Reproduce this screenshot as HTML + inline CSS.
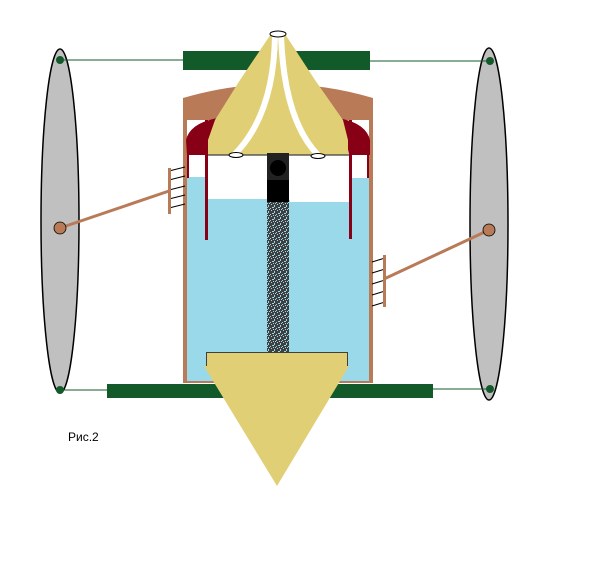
<!DOCTYPE html>
<html><head><meta charset="utf-8"><style>html,body{margin:0;padding:0;background:#fff}svg{display:block}</style></head><body>
<svg width="608" height="570" viewBox="0 0 608 570" xmlns="http://www.w3.org/2000/svg">
<rect width="608" height="570" fill="#fff"/>
<ellipse cx="60" cy="221" rx="19" ry="172" fill="#c0c0c0" stroke="#000" stroke-width="1.5"/>
<ellipse cx="489" cy="224" rx="19" ry="176" fill="#c0c0c0" stroke="#000" stroke-width="1.5"/>
<line x1="60" y1="60" x2="184" y2="60" stroke="#135a2a" stroke-width="1"/>
<line x1="370" y1="61" x2="490" y2="61" stroke="#135a2a" stroke-width="1"/>
<line x1="60" y1="390" x2="108" y2="390" stroke="#135a2a" stroke-width="1"/>
<line x1="432" y1="389" x2="490" y2="389" stroke="#135a2a" stroke-width="1"/>
<rect x="183" y="51" width="187" height="19" fill="#135a2a"/>
<rect x="107" y="384" width="326" height="14" fill="#135a2a"/>
<path d="M183 98 Q278 70 373 98 L373 383 L183 383 Z" fill="#b97a57"/>
<rect x="187" y="120" width="182" height="261" fill="#fff"/>
<path d="M187 177 L208 177 L208 199 L268 199 L268 200 L290 200 L290 202 L349 202 L349 178 L369 178 L369 381 L187 381 Z" fill="#99d9ea"/>
<path d="M186 140 Q190 123 218 118 L218 130 Q210 135 208 155 L187 155 Z" fill="#880015"/>
<path d="M370 140 Q366 123 338 118 L338 130 Q346 135 349 155 L370 155 Z" fill="#880015"/>
<rect x="205" y="120" width="3" height="120" fill="#880015"/>
<rect x="349" y="120" width="3" height="119" fill="#880015"/>
<rect x="187" y="138" width="2" height="40" fill="#880015"/>
<rect x="367" y="138" width="2" height="40" fill="#880015"/>
<path d="M271 34 L285 34 L315 80 L343 120 L348 140 L348 155 L208 155 L208 140 L215 120 L240 80 Z" fill="#e1cf75"/>
<line x1="208" y1="155" x2="349" y2="155" stroke="#3f3f3f" stroke-width="1.2"/>
<path d="M275 35 Q274 115 234 155" fill="none" stroke="#fff" stroke-width="6"/>
<path d="M281 35 Q284 120 318 155" fill="none" stroke="#fff" stroke-width="6"/>
<ellipse cx="278" cy="34" rx="8" ry="3" fill="#fff" stroke="#000" stroke-width="1"/>
<ellipse cx="236" cy="155" rx="7" ry="2.5" fill="#fff" stroke="#000" stroke-width="1"/>
<ellipse cx="318" cy="156" rx="7" ry="2.5" fill="#fff" stroke="#000" stroke-width="1"/>
<rect x="267" y="153" width="22" height="50" fill="#222"/>
<circle cx="278" cy="168" r="8" fill="#000"/>
<rect x="267" y="180" width="22" height="22" fill="#000"/>
<defs><pattern id="sp" width="6" height="6" patternUnits="userSpaceOnUse"><rect width="6" height="6" fill="#3f3f3f"/><rect x="1" y="0" width="1" height="1" fill="#99d9ea"/><rect x="4" y="1" width="1" height="2" fill="#99d9ea"/><rect x="2" y="3" width="2" height="1" fill="#99d9ea"/><rect x="0" y="4" width="1" height="1" fill="#99d9ea"/><rect x="5" y="5" width="1" height="1" fill="#99d9ea"/><rect x="3" y="5" width="1" height="1" fill="#99d9ea"/></pattern></defs>
<rect x="267" y="202" width="22" height="153" fill="url(#sp)"/>
<rect x="206.5" y="352.5" width="141" height="14" fill="#e1cf75" stroke="#3f3f3f" stroke-width="1"/>
<path d="M204 366 L349 366 L277 486 Z" fill="#e1cf75"/>
<rect x="207" y="364" width="140" height="4" fill="#e1cf75"/>
<g stroke="#000" stroke-width="1">
<line x1="169" y1="171" x2="185" y2="167"/><line x1="169" y1="180" x2="185" y2="176"/><line x1="169" y1="190" x2="185" y2="186"/><line x1="169" y1="199" x2="185" y2="195"/><line x1="169" y1="208" x2="185" y2="204"/>
<line x1="372" y1="262" x2="385" y2="258"/><line x1="372" y1="273" x2="385" y2="269"/><line x1="372" y1="284" x2="385" y2="280"/><line x1="372" y1="295" x2="385" y2="291"/><line x1="372" y1="306" x2="385" y2="302"/>
</g>
<rect x="168" y="168" width="3" height="46" fill="#b97a57"/>
<rect x="383" y="255" width="3" height="52" fill="#b97a57"/>
<line x1="60" y1="228" x2="169" y2="191" stroke="#b97a57" stroke-width="3"/>
<line x1="489" y1="230" x2="384" y2="279" stroke="#b97a57" stroke-width="3"/>
<circle cx="60" cy="228" r="6" fill="#b97a57" stroke="#000" stroke-width="0.8"/>
<circle cx="489" cy="230" r="6" fill="#b97a57" stroke="#000" stroke-width="0.8"/>
<circle cx="60" cy="60" r="4" fill="#135a2a"/>
<circle cx="490" cy="61" r="4" fill="#135a2a"/>
<circle cx="60" cy="390" r="4" fill="#135a2a"/>
<circle cx="490" cy="389" r="4" fill="#135a2a"/>
<text x="68" y="441" font-family="Liberation Sans, sans-serif" font-size="12" fill="#000">Рис.2</text>
</svg>
</body></html>
